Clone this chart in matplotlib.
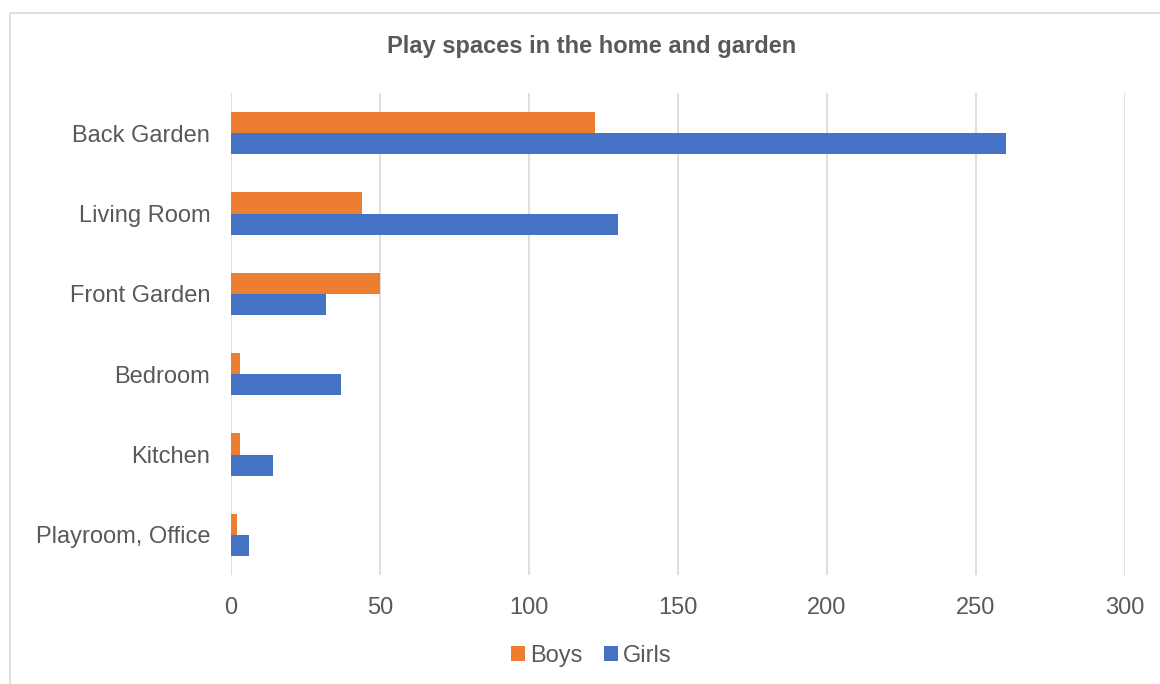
import matplotlib
matplotlib.use("Agg")
import matplotlib.pyplot as plt
import numpy as np

plt.rcParams['font.family'] = ['Liberation Sans', 'DejaVu Sans']

categories = ["Back Garden", "Living Room", "Front Garden", "Bedroom", "Kitchen", "Playroom, Office"]
boys = [122, 44, 50, 3, 3, 2]
girls = [260, 130, 32, 37, 14, 6]
x_ticks = [0, 50, 100, 150, 200, 250, 300]

W, H = 1160, 684
fig = plt.figure(figsize=(W / 100, H / 100), dpi=100)
fig.patch.set_facecolor("white")

# chart frame
frame = plt.Rectangle((10 / W, -0.01), 1.2, 1 - 13 / H + 0.01, transform=fig.transFigure,
                      fill=False, edgecolor="#D9D9D9", linewidth=1.2)
fig.add_artist(frame)

ax = fig.add_axes([231 / W, 1 - 575 / H, (1125 - 231) / W, (575 - 93) / H])

n = len(categories)
y = np.arange(n)[::-1].astype(float)
h = 0.2625
ax.barh(y + h / 2, boys, height=h, color="#ED7D31", label="Boys", zorder=3)
ax.barh(y - h / 2, girls, height=h, color="#4472C4", label="Girls", zorder=3)

ax.set_xlim(0, 300)
ax.set_ylim(-0.5, n - 0.5)
ax.set_xticks(x_ticks)
ax.set_xticklabels([str(t) for t in x_ticks])
ax.set_yticks(y)
ax.set_yticklabels(categories)
ax.tick_params(axis="both", length=0, labelsize=17, labelcolor="#595959")
ax.tick_params(axis="x", pad=15.5)
ax.tick_params(axis="y", pad=15)
ax.grid(axis="x", color="#D9D9D9", linewidth=1.2, zorder=0)
for s in ax.spines.values():
    s.set_visible(False)

fig.text(592 / W, 1 - 47 / H, "Play spaces in the home and garden", ha="center", va="center",
         fontsize=17, fontweight="bold", color="#595959")

fig.legend(loc="center", bbox_to_anchor=(591 / W, 1 - 656 / H), ncol=2, frameon=False,
           fontsize=17, labelcolor="#595959", handlelength=0.6, handleheight=0.6,
           handletextpad=0.2, columnspacing=0.9)

fig.savefig("out.png", dpi=100, facecolor="white")
